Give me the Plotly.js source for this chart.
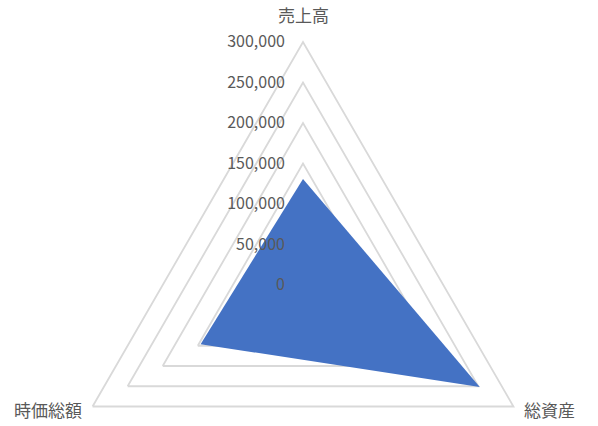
<!DOCTYPE html>
<html>
<head>
<meta charset="utf-8">
<script src="https://cdn.plot.ly/plotly-3.0.1.min.js"></script>
<style>
  html, body { margin: 0; padding: 0; overflow: hidden; background: #fff; }
  #chart { width: 598px; height: 530px; }
</style>
</head>
<body>
<div id="chart"></div>
<script>
const categories = ["売上高", "総資産", "時価総額"];
const values = [131000, 252000, 146000];
const tickVals = [0, 50000, 100000, 150000, 200000, 250000, 300000];

const gridColor = "#d9d9d9";
const labelColor = "#595959";
const fontFamily = "Noto Sans CJK JP, sans-serif";

const trace = {
  type: "scatterpolar",
  r: [...values, values[0]],
  theta: [...categories, categories[0]],
  fill: "toself",
  fillcolor: "#4472c4",
  mode: "lines",
  line: { color: "#4472c4", width: 0 },
  hoverinfo: "skip",
  showlegend: false,
};

// category names sit outside the triangle corners, like Excel does
const labelSpots = [
  { x: 0.5, y: 1.0566 },
  { x: 1.0082, y: 0.2428 },
  { x: -0.0247, y: 0.2428 },
];
const annotations = categories.map((name, i) => ({
  text: name,
  xref: "paper", yref: "paper",
  x: labelSpots[i].x, y: labelSpots[i].y,
  xanchor: "center", yanchor: "middle",
  showarrow: false,
  font: { family: fontFamily, size: 17, color: labelColor },
}));

const layout = {
  width: 598,
  height: 530,
  margin: { l: 60, r: 52, t: 42, b: 2 },
  paper_bgcolor: "#ffffff",
  font: { family: fontFamily, size: 16, color: labelColor },
  polar: {
    bgcolor: "rgba(0,0,0,0)",
    gridshape: "linear",
    radialaxis: {
      range: [0, 300000],
      tickvals: tickVals,
      tickformat: ",",
      tickangle: 90,
      angle: 90,
      side: "counterclockwise",
      showline: false,
      ticks: "outside",
      ticklen: 12,
      tickcolor: "rgba(0,0,0,0)",
      gridcolor: gridColor,
      gridwidth: 1.8,
      tickfont: { family: fontFamily, size: 16, color: labelColor },
      layer: "above traces",
    },
    angularaxis: {
      rotation: 90,
      direction: "clockwise",
      showgrid: false,
      showline: true,
      linecolor: gridColor,
      linewidth: 1.8,
      ticks: "",
      showticklabels: false,
    },
  },
  annotations: annotations,
};

Plotly.newPlot("chart", [trace], layout, { displayModeBar: false, staticPlot: true });
</script>
</body>
</html>
